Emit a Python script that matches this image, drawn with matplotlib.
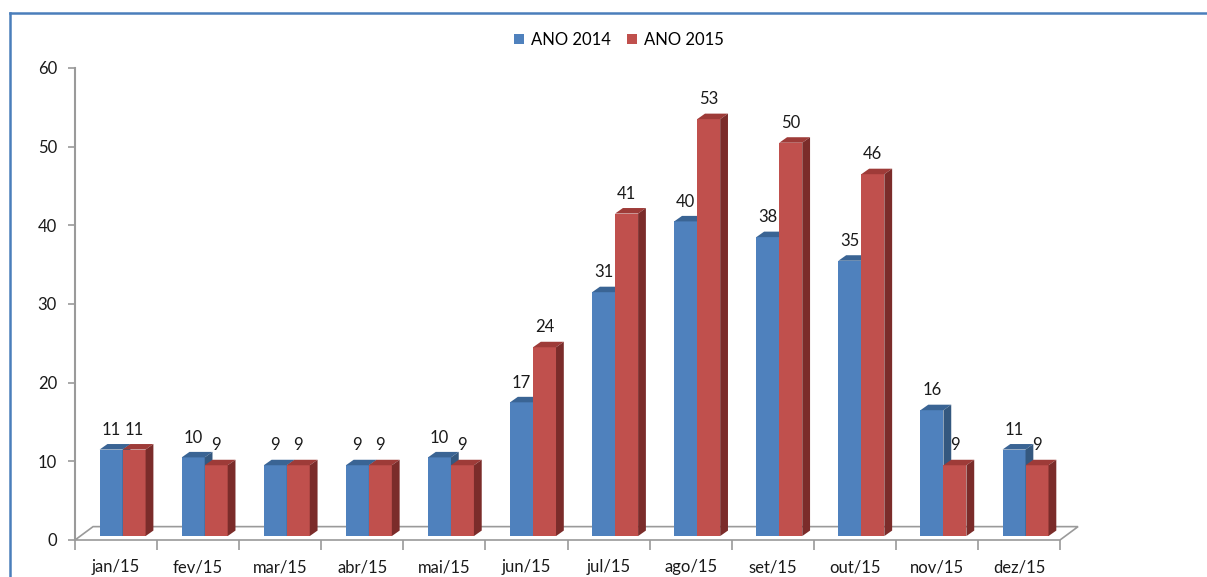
import matplotlib.pyplot as plt
from matplotlib.patches import Polygon, Patch
from matplotlib.lines import Line2D

plt.rcParams['font.family'] = ['Lato', 'DejaVu Sans']

months = ['jan/15', 'fev/15', 'mar/15', 'abr/15', 'mai/15', 'jun/15',
          'jul/15', 'ago/15', 'set/15', 'out/15', 'nov/15', 'dez/15']
ano_2014 = [11, 10, 9, 9, 10, 17, 31, 40, 38, 35, 16, 11]
ano_2015 = [11, 9, 9, 9, 9, 24, 41, 53, 50, 46, 9, 9]

# 3D look (data units)
W = 0.28
DX, DY = 0.095, 0.7
BASE = 0.5
FLOOR_DX, FLOOR_DY = 0.22, 1.7

blue = ('#4F81BD', '#3A6494', '#34587F')
red = ('#C0504D', '#9E3B38', '#7B2C2A')


def bar3d(ax, x0, v, cols):
    top = BASE + v
    ax.add_patch(Polygon([(x0, BASE), (x0 + W, BASE), (x0 + W, top), (x0, top)],
                         closed=True, fc=cols[0], ec='none', zorder=3))
    ax.add_patch(Polygon([(x0, top), (x0 + W, top), (x0 + W + DX, top + DY),
                          (x0 + DX, top + DY)],
                         closed=True, fc=cols[1], ec='none', zorder=3))
    ax.add_patch(Polygon([(x0 + W, BASE), (x0 + W + DX, BASE + DY),
                          (x0 + W + DX, top + DY), (x0 + W, top)],
                         closed=True, fc=cols[2], ec='none', zorder=3))
    ax.text(x0 + W / 2, top + 1.5, str(v), ha='center', va='bottom',
            fontsize=12, color='#1a1a1a', zorder=5)


fig = plt.figure(figsize=(12.07, 5.77), dpi=100)
ax = fig.add_axes([75 / 1207, 37 / 577, 985 / 1207, 472 / 577])
ax.set_xlim(-0.5, 11.5)
ax.set_ylim(0, 60)
for s in ax.spines.values():
    s.set_visible(False)

# floor
ax.add_patch(Polygon([(-0.5, 0), (11.5, 0), (11.5 + FLOOR_DX, FLOOR_DY),
                      (-0.5 + FLOOR_DX, FLOOR_DY)], closed=True,
                     fc='white', ec='#9a9a9a', lw=1.2, zorder=1, clip_on=False))
ax.plot([-0.5, -0.5], [0, 60], color='#9a9a9a', lw=1.5, clip_on=False, zorder=2)

for i in range(len(months)):
    bar3d(ax, i - 0.2, ano_2014[i], blue)
    bar3d(ax, i + 0.08, ano_2015[i], red)

ax.set_yticks(range(0, 61, 10))
ax.set_xticks(range(len(months)))
ax.set_xticklabels(months)
ax.set_xticks([i - 0.5 for i in range(len(months) + 1)], minor=True)
ax.tick_params(axis='x', which='major', length=0, pad=14, labelsize=12,
               labelcolor='#1a1a1a')
ax.tick_params(axis='x', which='minor', length=7, color='#9a9a9a', width=1.2)
ax.tick_params(axis='y', length=5, color='#9a9a9a', width=1.2, labelsize=12,
               labelcolor='#1a1a1a', pad=8)

handles = [Patch(fc=blue[0], label='ANO 2014'), Patch(fc=red[0], label='ANO 2015')]
fig.legend(handles=handles, loc='center', bbox_to_anchor=(619 / 1207, 1 - 40 / 577),
           ncol=2, frameon=False, fontsize=12, handlelength=0.6, handleheight=0.6,
           handletextpad=0.4, columnspacing=1.0)

# outer chart frame (cropped on right and bottom)
fig.add_artist(Line2D([10 / 1207, 10 / 1207], [0, 1 - 13 / 577], color='#4A7EBB', lw=1.8))
fig.add_artist(Line2D([10 / 1207, 1], [1 - 13 / 577, 1 - 13 / 577], color='#4A7EBB', lw=1.8))

fig.savefig('out.png', dpi=100)
